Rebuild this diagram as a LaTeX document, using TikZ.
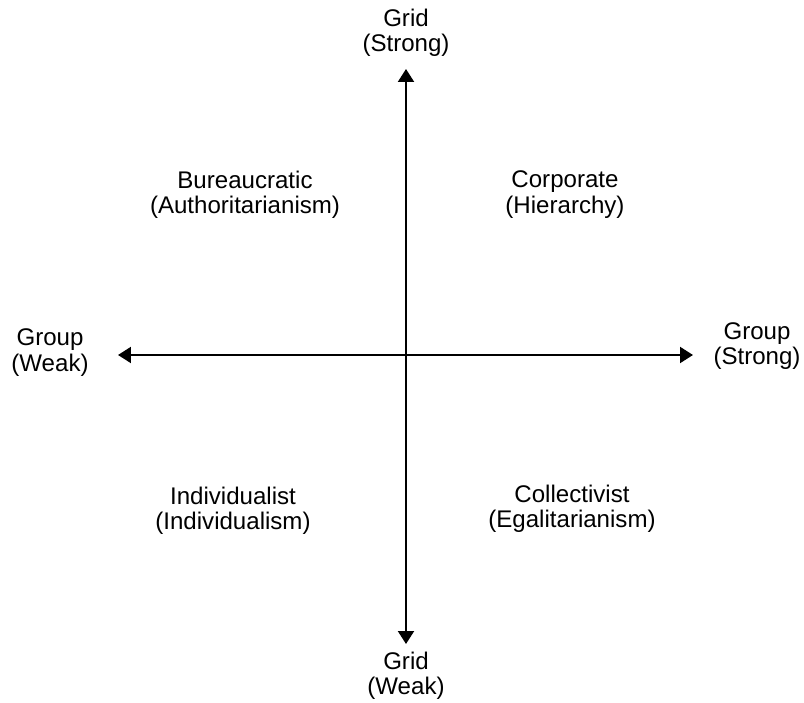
\documentclass[tikz,border=0pt]{standalone}
\usepackage{fontspec}
\setmainfont{Liberation Sans}
\usetikzlibrary{arrows.meta, positioning}

\begin{document}
\begin{tikzpicture}[
    lbl/.style={align=center, inner sep=0pt, font=\fontsize{13.7}{14.4}\selectfont},
    axis/.style={line width=1.1pt, {Triangle[length=0.26cm, width=0.32cm]}-{Triangle[length=0.26cm, width=0.32cm]}}
]
\useasboundingbox (-8.12,-6.96) rectangle (7.96,7.10);
% axis ends
\coordinate (n) at (0,5.72);
\coordinate (s) at (0,-5.78);
\coordinate (w) at (-5.76,0);
\coordinate (e) at (5.74,0);
\draw[axis] (s) -- (n);
\draw[axis] (w) -- (e);
% axis labels
\node[lbl] (gridstrong) at (0,6.45) {Grid\\(Strong)};
\node[lbl] (gridweak) at (0,-6.41) {Grid\\(Weak)};
\node[lbl] (groupweak) at (-7.12,0.05) {Group\\(Weak)};
\node[lbl] (groupstrong) at (7.02,0.18) {Group\\(Strong)};
% quadrants
\node[lbl] (bureau) at (-3.22,3.21) {Bureaucratic\\(Authoritarianism)};
\node[lbl] (corp) at (3.18,3.21) {Corporate\\(Hierarchy)};
\node[lbl] (indiv) at (-3.46,-3.12) {Individualist\\(Individualism)};
\node[lbl] (coll) at (3.32,-3.08) {Collectivist\\(Egalitarianism)};
\end{tikzpicture}
\end{document}
